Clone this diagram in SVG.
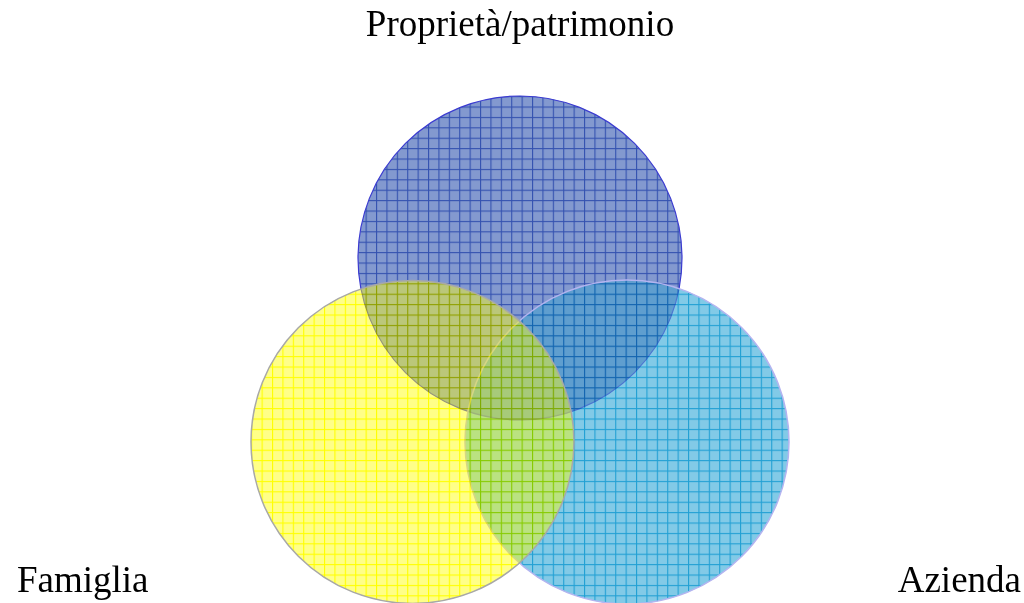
<svg xmlns="http://www.w3.org/2000/svg" width="1024" height="603" viewBox="0 0 1024 603">
  <style>
    .lbl { font-family: "Liberation Serif", "Times New Roman", serif; font-size: 37px; fill: #000; }
    .mul { mix-blend-mode: multiply; }
  </style>
  <defs>
    <pattern id="gridB" width="10.4" height="10.4" x="1.6" y="2.5" patternUnits="userSpaceOnUse">
      <rect width="10.4" height="10.4" fill="#8399cf"/>
      <rect x="0" y="0" width="1.1" height="10.4" fill="#3452b0"/>
      <rect x="0" y="0" width="10.4" height="1.1" fill="#3452b0"/>
    </pattern>
    <pattern id="gridC" width="10.4" height="10.4" x="1.6" y="2.5" patternUnits="userSpaceOnUse">
      <rect width="10.4" height="10.4" fill="#82cae7"/>
      <rect x="0" y="0" width="1.1" height="10.4" fill="#22a0d4"/>
      <rect x="0" y="0" width="10.4" height="1.1" fill="#22a0d4"/>
    </pattern>
    <pattern id="gridY" width="10.4" height="10.4" x="1.6" y="2.5" patternUnits="userSpaceOnUse">
      <rect width="10.4" height="10.4" fill="#ffff88"/>
      <rect x="0" y="0" width="1.1" height="10.4" fill="#ffff00"/>
      <rect x="0" y="0" width="10.4" height="1.1" fill="#ffff00"/>
    </pattern>
  </defs>
  <rect width="1024" height="603" fill="#ffffff"/>
  <g id="node-proprieta">
    <circle cx="520" cy="258" r="162" fill="url(#gridB)" stroke="#3b3bd0" stroke-width="1.2"/>
  </g>
  <g id="node-azienda-circle">
    <circle class="mul" cx="627" cy="442" r="162" fill="url(#gridC)"/>
    <circle cx="627" cy="442" r="162" fill="url(#gridC)" fill-opacity="0.45" stroke="#b4b4f0" stroke-width="1.5"/>
  </g>
  <g id="node-famiglia-circle">
    <circle class="mul" cx="412.5" cy="442" r="161.5" fill="url(#gridY)"/>
    <circle cx="412.5" cy="442" r="161.5" fill="url(#gridY)" fill-opacity="0.45" stroke="#a8a8a8" stroke-width="1.5"/>
  </g>
  <g id="labels">
    <text class="lbl" x="520" y="36" text-anchor="middle">Proprietà/patrimonio</text>
    <text class="lbl" x="17" y="592">Famiglia</text>
    <text class="lbl" x="1021" y="592" text-anchor="end">Azienda</text>
  </g>
  <g id="connectors"></g>
</svg>
